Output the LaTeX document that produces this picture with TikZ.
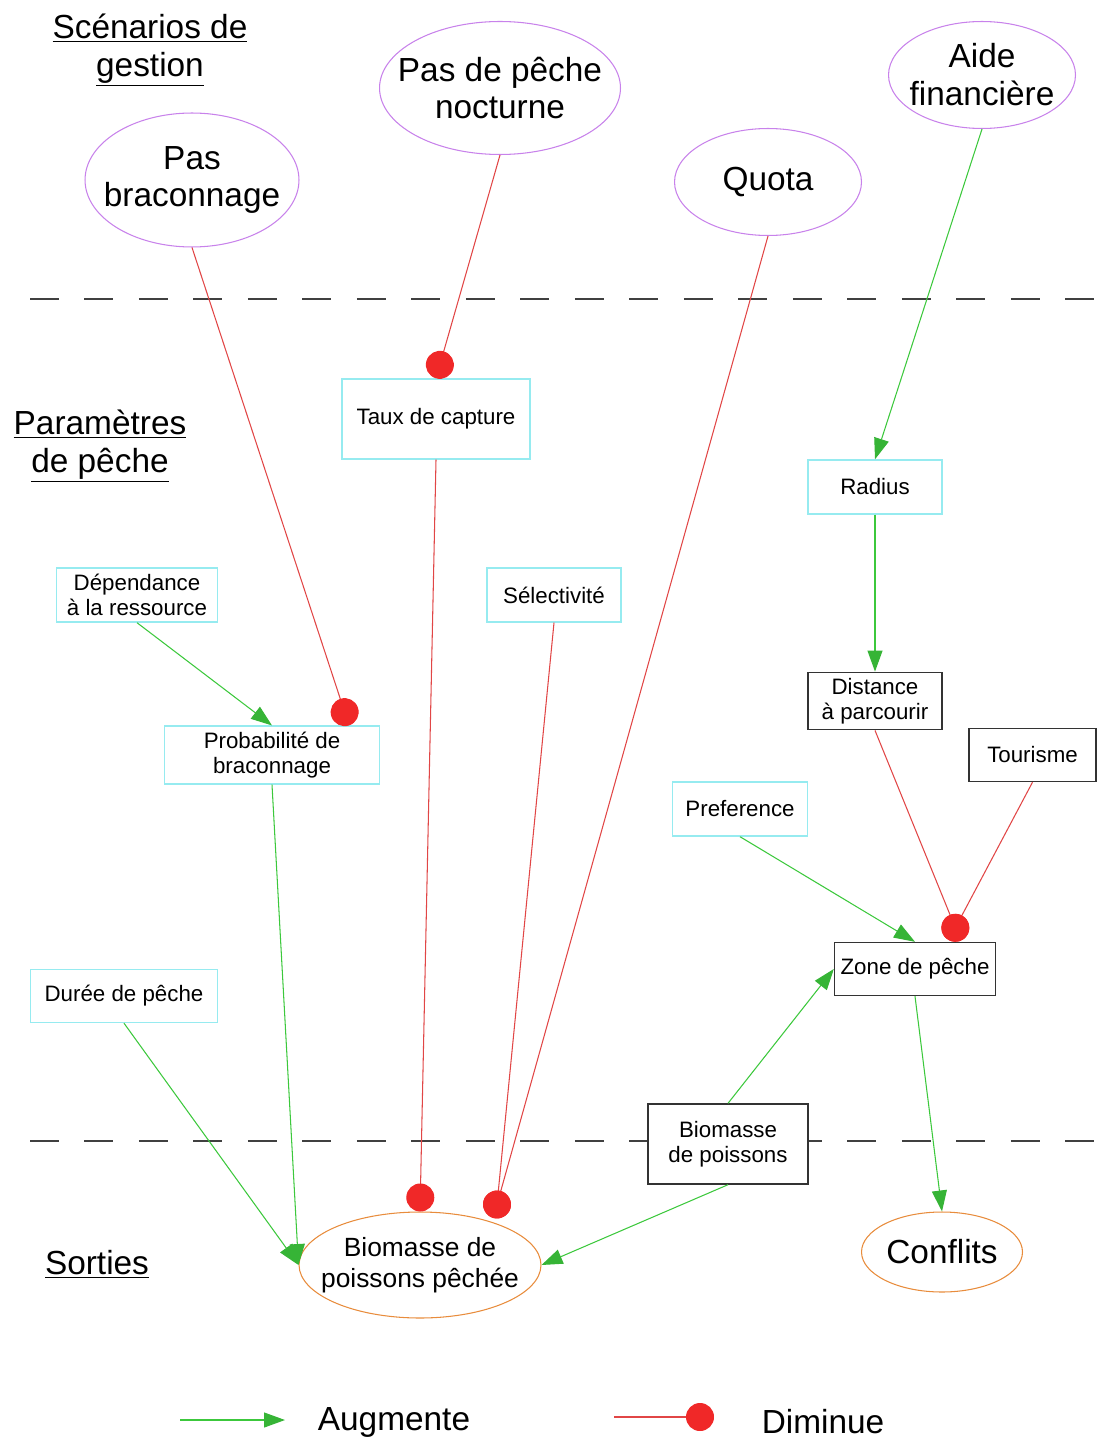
\documentclass[tikz,border=0pt]{standalone}
\usepackage{fontspec}
\setmainfont{Liberation Sans}
\usepackage{tikz}
\usetikzlibrary{shapes.geometric, arrows.meta, positioning, calc}
\definecolor{scenviolet}{RGB}{200,130,235}
\definecolor{sortieorange}{RGB}{232,140,60}
\definecolor{paramcyan}{RGB}{150,235,240}
\definecolor{augvert}{RGB}{60,200,60}
\definecolor{dimrouge}{RGB}{225,70,70}
\definecolor{dotrouge}{RGB}{240,40,40}
\newcommand{\petit}{\fontsize{12.7}{14.2}\selectfont}
\newcommand{\moyen}{\fontsize{15}{17.3}\selectfont}
\newcommand{\grand}{\fontsize{19}{21.6}\selectfont}
\tikzset{
  scenario/.style={ellipse, draw=scenviolet, line width=0.6pt, fill=white,
    inner xsep=-0.5cm, inner ysep=-0.1cm, align=center, font=\grand},
  sortie/.style={scenario, draw=sortieorange},
  param/.style={rectangle, draw=paramcyan, line width=0.8pt, fill=white,
    align=center, font=\petit},
  etat/.style={param, draw=black!80},
  titre/.style={align=center, font=\grand},
  augmente/.style={draw=augvert, line width=0.6pt,
    -{Triangle[length=0.42cm, width=0.3cm, color=augvert!90!black]}},
  diminue/.style={draw=dimrouge, line width=0.6pt,
    -{Circle[length=0.56cm, color=dotrouge]}},
  diminue centre/.style={diminue, shorten >=-0.28cm},
  separation/.style={draw=black!75, line width=0.7pt, dash pattern=on 0.58cm off 0.51cm}
}

\begin{document}
\begin{tikzpicture}[x=0.02cm, y=-0.02cm]
  \useasboundingbox (0,0) rectangle (1097,1449);

  % niveaux
  \draw[separation] (30,299) -- (1097,299);
  \draw[separation] (30,1141) -- (1097,1141);
  \node[titre] (t-scen) at (150,50) {\underline{Scénarios de}\\\underline{gestion}};
  \node[titre] (t-param) at (100,446) {\underline{Paramètres}\\\underline{de pêche}};
  \node[titre] (t-sort) at (97,1264) {\underline{Sorties}};

  % scenarios de gestion
  \node[scenario, minimum width=4.28cm, minimum height=2.68cm] (pasbrac) at (192,180) {Pas\\braconnage};
  \node[scenario, minimum width=4.82cm, minimum height=2.66cm] (nocturne) at (500,88) {Pas de pêche\\nocturne};
  \node[scenario, minimum width=3.74cm, minimum height=2.14cm] (quota) at (768,182) {Quota};
  \node[scenario, minimum width=3.74cm, minimum height=2.14cm] (aide) at (982,75) {Aide\\financière};

  % parametres de peche
  \node[param, minimum width=3.76cm, minimum height=1.6cm] (taux) at (436,419) {Taux de capture};
  \node[param, minimum width=2.68cm, minimum height=1.08cm] (radius) at (875,487) {Radius};
  \node[param, minimum width=2.68cm, minimum height=1.08cm] (select) at (554,595) {Sélectivité};
  \node[param, minimum width=3.22cm, minimum height=1.08cm] (depend) at (137,595) {Dépendance\\à la ressource};
  \node[param, minimum width=4.3cm, minimum height=1.06cm] (proba) at (272,755) {Probabilité de\\braconnage};
  \node[param, minimum width=2.7cm, minimum height=1.08cm] (pref) at (740,809) {Preference};
  \node[param, minimum width=3.74cm, minimum height=1.06cm] (duree) at (124,996) {Durée de pêche};
  \node[etat, minimum width=2.68cm, minimum height=1.06cm] (dist) at (875,701) {Distance\\à parcourir};
  \node[etat, minimum width=2.54cm, minimum height=1.06cm] (tourisme) at (1032.5,755) {Tourisme};
  \node[etat, minimum width=3.22cm, minimum height=1.06cm] (zone) at (915,969) {Zone de pêche};
  \node[etat, minimum width=3.2cm, minimum height=1.6cm] (biom) at (728,1144) {Biomasse\\de poissons};

  % sorties
  \node[sortie, font=\moyen, minimum width=4.84cm, minimum height=2.12cm] (peche) at (420,1265) {Biomasse de\\poissons pêchée};
  \node[sortie, minimum width=3.22cm, minimum height=1.6cm] (conflits) at (942,1252) {Conflits};
  \coordinate (peche-dot) at ($(peche.north)+(77,-7)$);
  \coordinate (zone-dot) at ($(zone.34)+(0,-14)$);

  % liens
  \draw[diminue] (pasbrac.south) -- (proba.21);
  \draw[diminue] (nocturne.south) -- (taux.north);
  \draw[diminue] (taux.south) -- (peche.north);
  \draw[diminue centre] (select.south) -- (peche-dot);
  \draw[diminue centre] (quota.south) -- (peche-dot);
  \draw[diminue centre] (dist.south) -- (zone-dot);
  \draw[diminue centre] (tourisme.south) -- (zone-dot);
  \draw[augmente] (aide.south) -- (radius.north);
  \draw[augmente] (radius.south) -- (dist.north);
  \draw[augmente] (depend.south) -- (proba.north);
  \draw[augmente] (proba.south) -- (peche.west);
  \draw[augmente] (duree.south) -- (peche.west);
  \draw[augmente] (pref.south) -- (zone.north);
  \draw[augmente] (zone.south) -- (conflits.north);
  \draw[augmente] (biom.north) -- (zone.west);
  \draw[augmente] (biom.south) -- (peche.east);

  % legende
  \coordinate (aug-a) at (180,1420);
  \coordinate (aug-b) at (285,1420);
  \coordinate (dim-a) at (614,1417);
  \coordinate (dim-b) at (714,1417);
  \draw[augmente] (aug-a) -- (aug-b);
  \draw[diminue] (dim-a) -- (dim-b);
  \node[font=\grand] (aug-txt) at (394,1422) {Augmente};
  \node[font=\grand] (dim-txt) at (823,1422) {Diminue};
\end{tikzpicture}
\end{document}
